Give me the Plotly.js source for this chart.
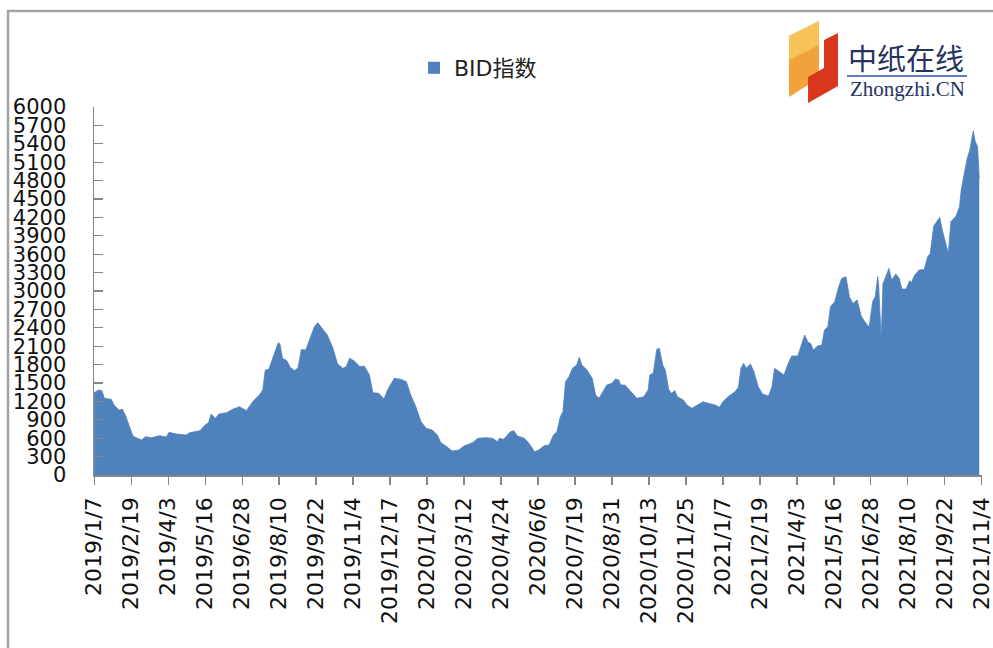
<!DOCTYPE html>
<html>
<head>
<meta charset="utf-8">
<script src="https://cdn.plot.ly/plotly-3.0.1.min.js"></script>
<style>html,body{margin:0;padding:0;background:#fff;}#chart{width:993px;height:648px;}</style>
</head>
<body>
<div id="chart"></div>
<script>
// ---------- data ----------
const seriesName = 'BID指数';
const dates = [
'2019-01-07','2019-01-12','2019-01-16','2019-01-19','2019-01-27','2019-01-30','2019-02-05','2019-02-09','2019-02-13','2019-02-17',
'2019-02-21','2019-02-25','2019-03-03','2019-03-08','2019-03-15','2019-03-24','2019-04-01','2019-04-04','2019-04-13','2019-04-24',
'2019-04-28','2019-05-10','2019-05-16','2019-05-20','2019-05-23','2019-05-28','2019-06-01','2019-06-10','2019-06-17','2019-06-25',
'2019-07-03','2019-07-11','2019-07-18','2019-07-22','2019-07-25','2019-07-29','2019-08-03','2019-08-09','2019-08-11','2019-08-14',
'2019-08-19','2019-08-23','2019-08-28','2019-09-01','2019-09-05','2019-09-10','2019-09-14','2019-09-20','2019-09-24','2019-09-30',
'2019-10-05','2019-10-11','2019-10-17','2019-10-23','2019-10-27','2019-10-31','2019-11-05','2019-11-12','2019-11-17','2019-11-23',
'2019-11-27','2019-12-04','2019-12-10','2019-12-14','2019-12-22','2019-12-30','2020-01-05','2020-01-10','2020-01-16','2020-01-22',
'2020-01-28','2020-02-04','2020-02-10','2020-02-14','2020-02-20','2020-02-27','2020-03-06','2020-03-12','2020-03-22','2020-03-28',
'2020-04-06','2020-04-14','2020-04-20','2020-04-22','2020-04-27','2020-05-05','2020-05-09','2020-05-13','2020-05-21','2020-05-26',
'2020-06-02','2020-06-07','2020-06-13','2020-06-19','2020-06-24','2020-06-28','2020-07-02','2020-07-05','2020-07-08','2020-07-12',
'2020-07-16','2020-07-21','2020-07-24','2020-07-27','2020-08-02','2020-08-08','2020-08-12','2020-08-16','2020-08-19','2020-08-25',
'2020-08-31','2020-09-04','2020-09-08','2020-09-10','2020-09-15','2020-09-21','2020-09-29','2020-10-07','2020-10-12','2020-10-14',
'2020-10-18','2020-10-22','2020-10-25','2020-10-29','2020-11-01','2020-11-05','2020-11-08','2020-11-12','2020-11-15','2020-11-22',
'2020-11-26','2020-12-02','2020-12-07','2020-12-15','2020-12-21','2020-12-29','2021-01-03','2021-01-07','2021-01-13','2021-01-21',
'2021-01-25','2021-01-28','2021-01-31','2021-02-03','2021-02-08','2021-02-12','2021-02-17','2021-02-22','2021-03-01','2021-03-05',
'2021-03-08','2021-03-14','2021-03-19','2021-03-24','2021-03-28','2021-04-04','2021-04-08','2021-04-12','2021-04-16','2021-04-19',
'2021-04-22','2021-04-27','2021-05-02','2021-05-05','2021-05-09','2021-05-12','2021-05-17','2021-05-21','2021-05-25','2021-05-30',
'2021-06-03','2021-06-07','2021-06-12','2021-06-17','2021-06-21','2021-06-26','2021-06-30','2021-07-03','2021-07-06','2021-07-07',
'2021-07-10','2021-07-12','2021-07-16','2021-07-19','2021-07-22','2021-07-27','2021-07-31','2021-08-03','2021-08-08','2021-08-12',
'2021-08-14','2021-08-18','2021-08-23','2021-08-29','2021-09-02','2021-09-05','2021-09-09','2021-09-14','2021-09-16','2021-09-19',
'2021-09-23','2021-09-26','2021-09-29','2021-10-05','2021-10-09','2021-10-11','2021-10-15','2021-10-18','2021-10-21','2021-10-25',
'2021-10-27','2021-10-30','2021-11-01'
];
const bidValues = [
1340,1385,1375,1250,1233,1141,1060,1070,950,800,
636,608,570,625,608,641,619,695,668,652,
690,722,815,853,994,924,994,1016,1070,1114,
1049,1206,1304,1385,1711,1722,1929,2157,2135,1902,
1863,1755,1700,1750,2048,2037,2190,2418,2483,2363,
2282,2092,1809,1739,1766,1902,1863,1766,1777,1630,
1342,1331,1239,1385,1576,1559,1521,1304,1114,869,
761,733,652,527,473,391,407,473,527,598,
608,598,543,598,581,706,722,636,598,527,
380,407,478,489,652,706,951,1032,1521,1603,
1739,1793,1918,1793,1711,1576,1304,1250,1331,1467,
1494,1565,1548,1467,1467,1375,1250,1277,1385,1630,
1657,2048,2065,1793,1711,1396,1331,1375,1277,1222,
1141,1087,1125,1195,1168,1141,1103,1195,1277,1358,
1429,1739,1820,1739,1809,1684,1440,1320,1288,1440,
1739,1684,1630,1820,1940,1940,2119,2282,2162,2146,
2037,2103,2119,2363,2418,2744,2825,3042,3205,3233,
2907,2798,2852,2581,2499,2407,2825,2907,3233,3100,
2200,3113,3260,3368,3178,3276,3205,3032,3032,3168,
3135,3260,3341,3352,3559,3613,4058,4156,4200,3993,
3776,3613,4129,4221,4373,4645,4944,5162,5297,5612,
5449,5352,4835
];
const tickDates = ['2019-01-07','2019-02-19','2019-04-03','2019-05-16','2019-06-28','2019-08-10','2019-09-22','2019-11-04','2019-12-17',
'2020-01-29','2020-03-12','2020-04-24','2020-06-06','2020-07-19','2020-08-31','2020-10-13','2020-11-25','2021-01-07','2021-02-19',
'2021-04-03','2021-05-16','2021-06-28','2021-08-10','2021-09-22','2021-11-04'];
const tickLabels = ['2019/1/7','2019/2/19','2019/4/3','2019/5/16','2019/6/28','2019/8/10','2019/9/22','2019/11/4','2019/12/17',
'2020/1/29','2020/3/12','2020/4/24','2020/6/6','2020/7/19','2020/8/31','2020/10/13','2020/11/25','2021/1/7','2021/2/19',
'2021/4/3','2021/5/16','2021/6/28','2021/8/10','2021/9/22','2021/11/4'];
const logoTitle = '中纸在线';
const logoSub = 'Zhongzhi.CN';

// ---------- layout helpers (pixel -> paper) ----------
const L = 94, R = 982, T = 107, B = 475, W = 993, H = 648;
const fx = px => (px - L) / (R - L);
const fy = py => (B - py) / (B - T);
const poly = pts => 'M' + pts.map(p => fx(p[0]).toFixed(4) + ',' + fy(p[1]).toFixed(4)).join(' L') + ' Z';

const blue = '#4f81bd';
const font = 'DejaVu Sans, Noto Sans CJK SC, sans-serif';

const traces = [
  {
    type: 'scatter', mode: 'lines', x: dates, y: bidValues,
    fill: 'tozeroy', fillcolor: blue, line: {color: blue, width: 0.8},
    showlegend: false, hoverinfo: 'x+y'
  },
  {
    type: 'bar', x: [null], y: [null], name: seriesName,
    marker: {color: blue}, showlegend: true, hoverinfo: 'skip'
  }
];

const layout = {
  width: W, height: H,
  margin: {l: L, r: W - R, t: T, b: H - B, pad: 0},
  paper_bgcolor: '#ffffff', plot_bgcolor: '#ffffff',
  font: {family: font, color: '#111', size: 21},
  showlegend: true,
  legend: {
    x: fx(414), y: fy(68), xanchor: 'left', yanchor: 'middle',
    orientation: 'h', font: {family: font, size: 22, color: '#222'},
    bgcolor: 'rgba(0,0,0,0)', itemwidth: 30
  },
  xaxis: {
    type: 'date',
    range: ['2019-01-06 20:00', '2021-11-04 04:00'],
    tickmode: 'array', tickvals: tickDates, ticktext: tickLabels,
    tickangle: -90, ticks: 'outside', ticklen: 8, tickcolor: '#868686', tickwidth: 1.2,
    showline: true, linecolor: '#868686', linewidth: 1.5,
    showgrid: false, zeroline: false,
    tickfont: {family: font, size: 22, color: '#111'},
    ticklabelstandoff: 4, ticklabeloverflow: 'allow', fixedrange: true
  },
  yaxis: {
    range: [0, 6000], dtick: 300, tick0: 0,
    ticks: 'inside', ticklen: 9, tickcolor: '#868686', tickwidth: 1.2,
    showline: true, linecolor: '#868686', linewidth: 1.5,
    showgrid: false, zeroline: false,
    tickfont: {family: font, size: 21, color: '#111'},
    ticklabelstandoff: 22, ticklabeloverflow: 'allow', fixedrange: true
  },
  shapes: [
    {type: 'rect', xref: 'paper', yref: 'paper', x0: fx(8), x1: fx(1012), y0: fy(700), y1: fy(11),
     line: {color: '#a3a3a3', width: 2.5}, fillcolor: 'rgba(0,0,0,0)', layer: 'below'},
    // logo graphics
    {type: 'path', xref: 'paper', yref: 'paper', path: poly([[789,36],[819,21],[819,78],[789,97]]),
     fillcolor: '#f2a23a', line: {width: 0}},
    {type: 'path', xref: 'paper', yref: 'paper', path: poly([[789,36],[819,21],[819,45],[789,60]]),
     fillcolor: '#f7c25a', line: {width: 0}},
    {type: 'path', xref: 'paper', yref: 'paper', path: poly([[824,40],[838,33],[838,86],[808,103],[808,77],[824,68]]),
     fillcolor: '#d9361c', line: {width: 0}},
    {type: 'line', xref: 'paper', yref: 'paper', x0: fx(847), x1: fx(967), y0: fy(76), y1: fy(76),
     line: {color: '#5b7fbf', width: 2}}
  ],
  annotations: [
    {xref: 'paper', yref: 'paper', x: fx(906), y: fy(57), text: logoTitle, showarrow: false,
     xanchor: 'center', yanchor: 'middle', font: {family: 'Noto Sans CJK SC, sans-serif', size: 29, color: '#25335e'}},
    {xref: 'paper', yref: 'paper', x: fx(907), y: fy(89), text: logoSub, showarrow: false,
     xanchor: 'center', yanchor: 'middle', font: {family: 'Liberation Serif, serif', size: 21, color: '#25335e'}}
  ]
};

Plotly.newPlot('chart', traces, layout, {displayModeBar: false, staticPlot: true});
</script>
</body>
</html>
